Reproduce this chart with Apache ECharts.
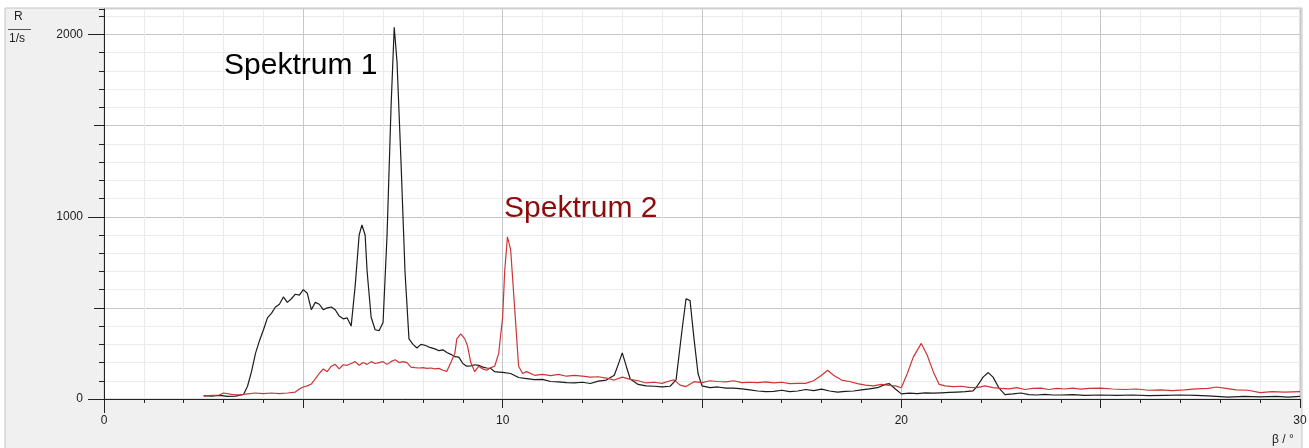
<!DOCTYPE html>
<html>
<head>
<meta charset="utf-8">
<script src="https://cdn.jsdelivr.net/npm/echarts@6/dist/echarts.min.js"></script>
<style>
  html, body { margin: 0; padding: 0; background: #ffffff; }
  #chart { width: 1309px; height: 448px; }
</style>
</head>
<body>
<div id="chart"></div>
<script>
// Two diffraction spectra: count rate R (1/s) over angle beta (deg).
// Values.

var angle1 = [2.5, 2.7, 2.9, 3.1, 3.3, 3.5, 3.6, 3.7, 3.8, 3.9, 4.0, 4.1, 4.2, 4.3, 4.4, 4.5, 4.6, 4.7, 4.8, 4.9,
  5.0, 5.1, 5.2, 5.3, 5.4, 5.5, 5.6, 5.7, 5.8, 5.9, 6.0, 6.1, 6.2, 6.3, 6.4, 6.47, 6.55, 6.6, 6.7, 6.8,
  6.9, 7.0, 7.1, 7.2, 7.28, 7.35, 7.45, 7.55, 7.65, 7.75, 7.85, 7.95, 8.05, 8.15, 8.3, 8.4, 8.5, 8.6, 8.7, 8.8,
  8.9, 9.0, 9.1, 9.2, 9.3, 9.4, 9.5, 9.6, 9.7, 9.8, 9.9, 10.0, 10.2, 10.4, 10.6, 10.8, 11.0, 11.2, 11.4, 11.6,
  11.8, 12.0, 12.2, 12.4, 12.6, 12.8, 12.9, 13.0, 13.1, 13.2, 13.4, 13.6, 13.8, 14.0, 14.2, 14.35, 14.5, 14.6, 14.7, 14.8,
  14.9, 15.0, 15.2, 15.4, 15.6, 15.8, 16.0, 16.2, 16.4, 16.6, 16.8, 17.0, 17.2, 17.4, 17.6, 17.8, 18.0, 18.2, 18.4, 18.6,
  18.8, 19.0, 19.2, 19.4, 19.6, 19.7, 19.85, 20.0, 20.2, 20.4, 20.6, 20.8, 21.0, 21.2, 21.4, 21.6, 21.8, 21.9, 22.05, 22.18,
  22.3, 22.45, 22.6, 22.8, 23.0, 23.2, 23.4, 23.6, 23.8, 24.0, 24.3, 24.6, 25.0, 25.4, 25.8, 26.2, 26.6, 27.0, 27.4, 27.8,
  28.2, 28.6, 29.0, 29.4, 29.7, 30.0];
var rate1 = [18, 15, 20, 14, 16, 25, 70, 150, 250, 320, 380, 445, 470, 505, 520, 560, 530, 550, 575, 570,
  600, 580, 490, 530, 520, 490, 500, 505, 490, 455, 440, 445, 400, 620, 900, 955, 900, 700, 450, 380,
  375, 420, 900, 1600, 2040, 1850, 1300, 700, 330, 300, 280, 300, 295, 285, 275, 265, 270, 255, 245, 232,
  230, 195, 180, 182, 188, 185, 175, 170, 168, 150, 148, 146, 140, 118, 112, 106, 108, 96, 94, 90,
  88, 92, 85, 98, 104, 130, 190, 253, 180, 110, 80, 72, 70, 66, 70, 105, 380, 550, 540, 330,
  140, 72, 62, 66, 60, 60, 56, 50, 44, 40, 42, 48, 40, 44, 52, 46, 54, 44, 38, 42,
  44, 50, 56, 62, 80, 84, 55, 28, 32, 30, 34, 32, 34, 36, 38, 40, 45, 70, 120, 145,
  120, 60, 24, 28, 33, 24, 22, 25, 22, 22, 24, 20, 22, 20, 22, 18, 20, 22, 20, 16,
  10, 14, 12, 14, 10, 14];

var angle2 = [2.5, 2.7, 2.9, 3.0, 3.2, 3.4, 3.6, 3.8, 4.0, 4.2, 4.4, 4.6, 4.8, 4.9, 5.0, 5.1, 5.2, 5.3, 5.4, 5.5,
  5.6, 5.7, 5.8, 5.9, 6.0, 6.1, 6.2, 6.3, 6.4, 6.5, 6.6, 6.7, 6.8, 6.9, 7.0, 7.1, 7.2, 7.3, 7.4, 7.5,
  7.6, 7.7, 7.8, 7.9, 8.0, 8.1, 8.2, 8.3, 8.4, 8.5, 8.6, 8.7, 8.8, 8.85, 8.95, 9.05, 9.12, 9.2, 9.3, 9.4,
  9.5, 9.6, 9.7, 9.8, 9.9, 10.0, 10.05, 10.12, 10.2, 10.3, 10.4, 10.5, 10.6, 10.8, 11.0, 11.2, 11.4, 11.6, 11.8, 12.0,
  12.2, 12.4, 12.6, 12.8, 13.0, 13.2, 13.4, 13.6, 13.8, 14.0, 14.2, 14.3, 14.45, 14.6, 14.8, 15.0, 15.2, 15.4, 15.6, 15.8,
  16.0, 16.2, 16.4, 16.6, 16.8, 17.0, 17.2, 17.4, 17.6, 17.8, 18.0, 18.15, 18.3, 18.5, 18.7, 18.9, 19.1, 19.3, 19.5, 19.7,
  19.85, 20.0, 20.15, 20.3, 20.5, 20.65, 20.8, 20.95, 21.1, 21.3, 21.5, 21.7, 21.9, 22.1, 22.3, 22.5, 22.7, 22.9, 23.1, 23.3,
  23.5, 23.7, 23.9, 24.1, 24.3, 24.5, 24.7, 25.0, 25.3, 25.6, 25.9, 26.2, 26.5, 26.8, 27.1, 27.4, 27.7, 27.9, 28.1, 28.4,
  28.7, 29.0, 29.3, 29.6, 30.0];
var rate2 = [16, 20, 22, 33, 25, 22, 28, 33, 30, 33, 30, 33, 38, 55, 66, 72, 82, 110, 140, 165,
  150, 180, 190, 165, 188, 185, 195, 205, 185, 200, 190, 205, 195, 200, 205, 190, 205, 215, 200, 205,
  200, 175, 172, 170, 172, 168, 170, 165, 168, 158, 152, 200, 250, 330, 357, 330, 290, 200, 150, 180,
  165, 158, 172, 180, 250, 450, 700, 890, 820, 500, 180, 140, 150, 130, 135, 128, 135, 125, 130, 125,
  120, 122, 115, 104, 120, 108, 100, 88, 92, 86, 100, 105, 76, 68, 95, 90, 100, 96, 94, 100,
  90, 92, 90, 94, 88, 92, 84, 86, 86, 100, 130, 158, 130, 104, 96, 84, 76, 72, 80, 74,
  72, 62, 140, 230, 305, 240, 150, 80, 72, 68, 70, 64, 62, 72, 62, 58, 56, 62, 52, 58,
  60, 52, 58, 55, 60, 54, 58, 60, 55, 52, 55, 48, 50, 46, 50, 56, 58, 66, 60, 50,
  48, 35, 40, 38, 40];

var seriesNames = ['Spektrum 1', 'Spektrum 2'];
var xMin = 0, xMax = 30;
var yMin = 0, yMax = 2140;
var xLabelValues = [0, 10, 20, 30];
var yLabelValues = [0, 1000, 2000];
var yMidTicks = [500, 1500];

function pairs(xs, ys) {
  return xs.map(function (x, i) { return [x, ys[i]]; });
}

var FONT = '"Liberation Sans", Arial, sans-serif';
var chart = echarts.init(document.getElementById('chart'));

var majorMinor = ['#c6c6c6', '#ebebeb', '#ebebeb', '#ebebeb', '#ebebeb'];
var plain = function (v) { return String(v); };

chart.setOption({
  animation: false,
  backgroundColor: '#ffffff',
  graphic: [
    { type: 'rect', z: -10, silent: true,
      shape: { x: 5, y: 8, width: 1297, height: 445 },
      style: { fill: '#f0f0f0', stroke: '#c4c4c4', lineWidth: 1 } },
    { type: 'text', left: 14, top: 11,
      style: { text: 'R', font: '12px ' + FONT, fill: '#222' } },
    { type: 'line', shape: { x1: 8, y1: 29.5, x2: 31, y2: 29.5 },
      style: { stroke: '#555', lineWidth: 1 } },
    { type: 'text', left: 9, top: 33,
      style: { text: '1/s', font: '12px ' + FONT, fill: '#222' } },
    { type: 'text', left: 1272, top: 434,
      style: { text: 'β / °', font: '12px ' + FONT, fill: '#222' } },
    { type: 'text', left: 224, top: 51, z: 100,
      style: { text: seriesNames[0], font: '30px ' + FONT, fill: '#000000' } },
    { type: 'text', left: 504, top: 194, z: 100,
      style: { text: seriesNames[1], font: '30px ' + FONT, fill: '#8e0b0b' } }
  ],
  grid: {
    left: 104, right: 9, top: 9, bottom: 49,
    outerBoundsMode: 'none', containLabel: false,
    show: true, backgroundColor: '#ffffff', borderColor: '#c4c4c4', borderWidth: 1
  },
  xAxis: [
    { type: 'value', min: xMin, max: xMax, interval: 1, position: 'bottom',
      axisLine: { show: true, onZero: false, lineStyle: { color: '#222', width: 1 } },
      axisTick: { show: true, length: 4, lineStyle: { color: '#222' } },
      axisLabel: { show: false },
      splitLine: { show: true, lineStyle: { color: majorMinor, width: 1 } } },
    { type: 'value', min: xMin, max: xMax, interval: 5, position: 'bottom',
      axisLine: { show: false, onZero: false },
      axisTick: { show: true, length: 9, lineStyle: { color: '#222' } },
      axisLabel: { show: true, customValues: xLabelValues, margin: 16, formatter: plain,
        color: '#222', fontSize: 12, fontFamily: FONT },
      splitLine: { show: false } },
    { type: 'value', min: xMin, max: xMax, position: 'bottom',
      axisLine: { show: false, onZero: false },
      axisTick: { show: true, customValues: [xMin], length: 14, lineStyle: { color: '#222' } },
      axisLabel: { show: false },
      splitLine: { show: false } }
  ],
  yAxis: [
    { type: 'value', min: yMin, max: yMax, interval: 100, position: 'left',
      axisLine: { show: true, onZero: false, lineStyle: { color: '#222', width: 1 } },
      axisTick: { show: true, length: 5, lineStyle: { color: '#222' } },
      axisLabel: { show: false },
      splitLine: { show: true, lineStyle: { color: majorMinor, width: 1 } } },
    { type: 'value', min: yMin, max: yMax, position: 'left',
      axisLine: { show: false, onZero: false },
      axisTick: { show: true, customValues: yMidTicks, length: 10, lineStyle: { color: '#222' } },
      axisLabel: { show: false },
      splitLine: { show: false } },
    { type: 'value', min: yMin, max: yMax, position: 'left',
      axisLine: { show: false, onZero: false },
      axisTick: { show: true, customValues: yLabelValues, length: 16, lineStyle: { color: '#222' } },
      axisLabel: { show: true, customValues: yLabelValues, margin: 21, formatter: plain,
        color: '#222', fontSize: 12, fontFamily: FONT },
      splitLine: { show: false } }
  ],
  series: [
    { name: seriesNames[0], type: 'line', xAxisIndex: 0, yAxisIndex: 0,
      data: pairs(angle1, rate1), showSymbol: false,
      lineStyle: { color: '#1c1c1c', width: 1.2 } },
    { name: seriesNames[1], type: 'line', xAxisIndex: 0, yAxisIndex: 0,
      data: pairs(angle2, rate2), showSymbol: false,
      lineStyle: { color: '#cf3434', width: 1.2 } }
  ]
});
</script>
</body>
</html>
